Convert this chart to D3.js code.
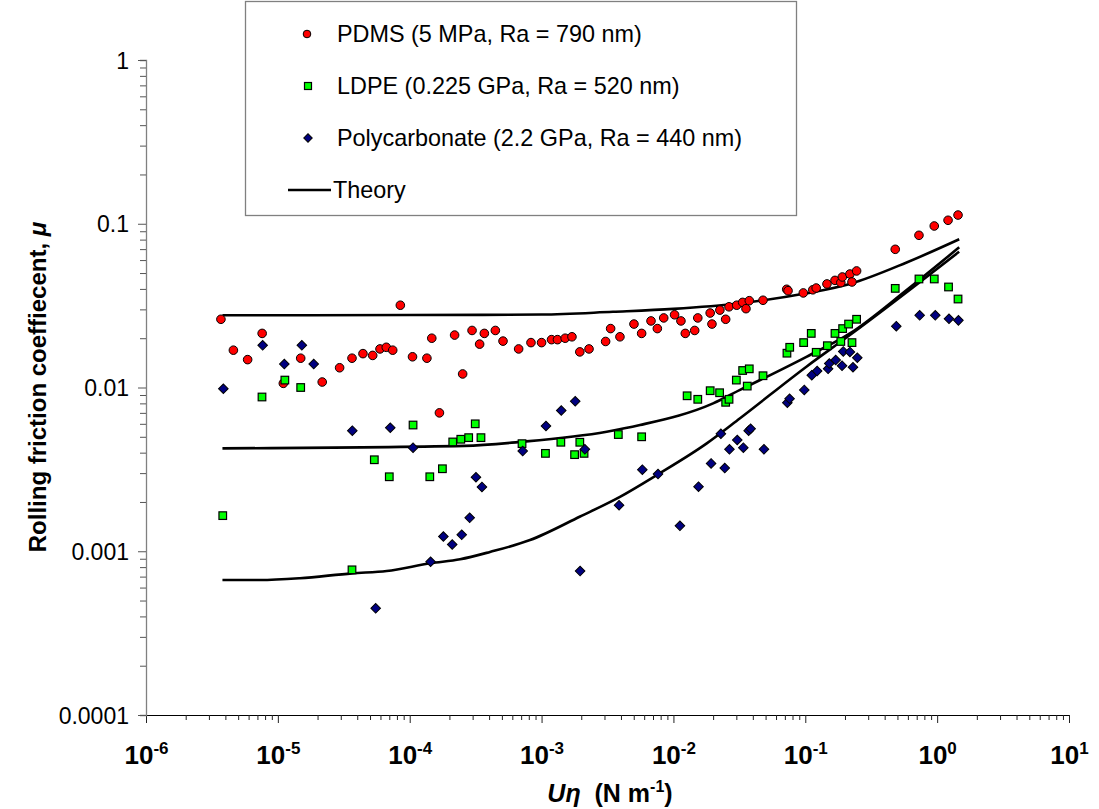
<!DOCTYPE html>
<html>
<head>
<meta charset="utf-8">
<script src="https://cdn.jsdelivr.net/npm/d3@7"></script>
<style>
  body { margin: 0; background: #fff; }
  svg { display: block; font-family: Arial, "Liberation Sans", sans-serif; }
</style>
</head>
<body>
<svg id="chart" width="1099" height="809"></svg>
<script>
// measured points [U·eta (N/m), mu]
const pdms = [
  [3.7e-6,0.0261],[4.6e-6,0.0169],[5.9e-6,0.0148],[7.6e-6,0.0214],[1.1e-5,0.0106],
  [1.49e-5,0.0151],[2.17e-5,0.0108],[2.94e-5,0.0132],[3.65e-5,0.0151],[4.42e-5,0.0161],
  [5.24e-5,0.0157],[5.95e-5,0.0172],[6.64e-5,0.0176],[7.43e-5,0.0169],[8.49e-5,0.0318],
  [1.05e-4,0.0154],[1.35e-4,0.0151],[1.47e-4,0.0200],[1.68e-4,0.0070],[2.19e-4,0.0209],
  [2.52e-4,0.0121],[2.97e-4,0.0223],[3.39e-4,0.0184],[3.68e-4,0.0214],[4.46e-4,0.0223],
  [5.1e-4,0.0192],[6.7e-4,0.0172],[8.31e-4,0.0188],[1.0e-3,0.0188],[1.19e-3,0.0196],
  [1.32e-3,0.0196],[1.51e-3,0.0200],[1.70e-3,0.0204],[1.95e-3,0.0165],[2.29e-3,0.0172],
  [3.06e-3,0.0191],[3.34e-3,0.0229],[3.93e-3,0.0204],[5.02e-3,0.0244],[5.74e-3,0.0214],
  [6.76e-3,0.0255],[7.55e-3,0.0229],[8.44e-3,0.0266],[1.02e-2,0.0278],[1.14e-2,0.0255],
  [1.23e-2,0.0214],[1.45e-2,0.0223],[1.53e-2,0.0266],[1.90e-2,0.0285],[1.96e-2,0.0244],
  [2.25e-2,0.0297],[2.49e-2,0.0261],[2.64e-2,0.0311],[3.02e-2,0.0318],[3.35e-2,0.0331],
  [3.55e-2,0.0303],[3.76e-2,0.0339],[4.78e-2,0.0341],[7.23e-2,0.0398],[7.4e-2,0.0390],
  [9.66e-2,0.0378],[0.114,0.0395],[0.121,0.0405],[0.146,0.0429],[0.168,0.0451],
  [0.186,0.0437],[0.191,0.0473],[0.218,0.0493],[0.226,0.0441],[0.245,0.0515],
  [0.481,0.0698],[0.728,0.085],[0.951,0.0969],[1.21,0.105],[1.44,0.113]
];

const ldpe = [
  [3.82e-6,0.00165],[7.58e-6,0.00875],[1.13e-5,0.0111],[1.49e-5,0.0100],[3.65e-5,0.00077],
  [5.39e-5,0.00362],[7.0e-5,0.00285],[1.06e-4,0.0059],[1.42e-4,0.00285],[1.77e-4,0.00319],
  [2.12e-4,0.00465],[2.44e-4,0.00483],[2.80e-4,0.00494],[3.14e-4,0.0060],[3.47e-4,0.00494],
  [7.11e-4,0.00454],[1.07e-3,0.00396],[1.40e-3,0.00463],[1.78e-3,0.00389],[1.95e-3,0.00463],
  [2.10e-3,0.00396],[3.82e-3,0.00516],[5.74e-3,0.0050],[1.27e-2,0.0089],[1.53e-2,0.00847],
  [1.90e-2,0.00956],[2.24e-2,0.00929],[2.49e-2,0.00812],[2.64e-2,0.00847],[3.0e-2,0.0111],
  [3.35e-2,0.0127],[3.63e-2,0.0102],[3.76e-2,0.0130],[4.78e-2,0.0118],[7.26e-2,0.0162],
  [7.62e-2,0.0176],[9.72e-2,0.0188],[0.111,0.0214],[0.121,0.0164],[0.147,0.0180],
  [0.168,0.0214],[0.186,0.0191],[0.192,0.0229],[0.213,0.0244],[0.226,0.0188],
  [0.245,0.0261],[0.481,0.0403],[0.728,0.046],[0.951,0.046],[1.22,0.0411],[1.44,0.0347]
];

const pc = [
  [3.86e-6,0.00983],[7.67e-6,0.0181],[1.12e-5,0.0139],[1.52e-5,0.0181],[1.87e-5,0.0139],
  [3.67e-5,0.00545],[5.52e-5,0.000448],[7.12e-5,0.00568],[1.06e-4,0.00429],[1.44e-4,0.000863],
  [1.80e-4,0.00123],[2.10e-4,0.0011],[2.48e-4,0.00126],[2.85e-4,0.0016],[3.18e-4,0.00283],
  [3.53e-4,0.00247],[7.19e-4,0.00409],[1.08e-3,0.00582],[1.41e-3,0.00724],[1.80e-3,0.00824],
  [1.96e-3,0.000757],[2.13e-3,0.00419],[3.87e-3,0.00191],[5.81e-3,0.00315],[7.64e-3,0.00296],
  [1.12e-2,0.00143],[1.55e-2,0.00248],[1.93e-2,0.00344],[2.29e-2,0.00522],[2.45e-2,0.00322],
  [2.66e-2,0.00419],[3.05e-2,0.00478],[3.39e-2,0.00429],[3.72e-2,0.00545],[3.85e-2,0.0056],
  [4.86e-2,0.00419],[7.31e-2,0.00808],[7.6e-2,0.00854],[9.83e-2,0.00966],[0.112,0.0119],
  [0.123,0.0126],[0.149,0.0130],[0.152,0.0140],[0.170,0.0147],[0.190,0.0136],
  [0.194,0.0166],[0.218,0.0165],[0.230,0.0133],[0.248,0.0152],[0.490,0.0237],
  [0.737,0.0276],[0.968,0.0276],[1.23,0.0263],[1.45,0.0257]
];

// theory curves
const pdmsTheory = [
  [3.8e-6,0.0276],[1e-4,0.0277],[1e-3,0.0279],[3.48e-3,0.0290],[1e-2,0.0302],
  [3.2e-2,0.0327],[0.102,0.0376],[0.218,0.0429],[0.587,0.058],[1.47,0.0804]
];
const ldpeTheory = [
  [3.8e-6,0.00425],[2.6e-4,0.0044],[7.27e-4,0.00467],[3.12e-3,0.00537],[5.58e-3,0.0059],
  [2.0e-2,0.0080],[3.2e-2,0.00966],[0.102,0.0154],[0.218,0.0214],[0.587,0.0394],[1.47,0.0718]
];
const pcTheory = [
  [3.8e-6,0.000667],[7.3e-6,0.000667],[1.47e-5,0.000684],[3.65e-5,0.000733],[6.69e-5,0.000757],
  [1.44e-4,0.000844],[2.41e-4,0.000893],[4.06e-4,0.00099],[8.17e-4,0.00117],[1.96e-3,0.00163],
  [3.93e-3,0.00215],[7.47e-3,0.00292],[1.79e-2,0.00456],[3.2e-2,0.00649],[0.102,0.0134],
  [0.218,0.0209],[1.47,0.0675]
];

const legendLabels = [
  "PDMS (5 MPa, Ra = 790 nm)",
  "LDPE (0.225 GPa, Ra = 520 nm)",
  "Polycarbonate (2.2 GPa, Ra = 440 nm)",
  "Theory"
];
const yTickLabels = ["0.0001", "0.001", "0.01", "0.1", "1"];
const xTickExps = ["-6", "-5", "-4", "-3", "-2", "-1", "0", "1"];

let svg = d3.select("#chart");

let x = d3.scaleLog().domain([1e-6, 10]).range([146, 1069]);
let y = d3.scaleLog().domain([1e-4, 1]).range([715, 60]);

function isMajor(d) {
    let l = Math.log10(d);
    return Math.abs(l - Math.round(l)) < 1e-6;
}

// ---- axes
let gx = svg.append("g")
    .attr("transform", "translate(0,715)")
    .call(d3.axisBottom(x).tickValues(x.ticks()).tickSizeOuter(0).tickSize(5).tickFormat(""));
gx.select(".domain").attr("stroke", "#000");
gx.selectAll(".tick line").attr("stroke", "#222").attr("y2", d => isMajor(d) ? 8 : 5);

let majX = gx.selectAll(".tick").filter(d => isMajor(d));
majX.select("text").remove();
majX.each(function(d, i) {
    let t = d3.select(this).append("text")
        .attr("y", 49)
        .attr("text-anchor", "middle")
        .attr("fill", "#000")
        .attr("font-size", 26)
        .attr("font-weight", "bold");
    t.append("tspan").text("10");
    t.append("tspan").attr("dy", -10).attr("font-size", 17).text(xTickExps[i]);
});

let gy = svg.append("g")
    .attr("transform", "translate(146,0)")
    .call(d3.axisLeft(y).tickValues(y.ticks()).tickSizeOuter(0).tickSize(6).tickPadding(11)
        .tickFormat(d => isMajor(d) ? yTickLabels[Math.round(Math.log10(d)) + 4] : ""));
gy.select(".domain").attr("stroke", "#808080").attr("stroke-width", 1.3);
gy.selectAll(".tick line").attr("stroke", "#555").attr("x2", d => isMajor(d) ? -8 : -6);
gy.selectAll(".tick text").attr("font-size", 23).attr("fill", "#000").attr("dy", "0.35em");

// ---- axis titles
let yt = svg.append("text")
    .attr("transform", "translate(46,387) rotate(-90)")
    .attr("text-anchor", "middle")
    .attr("font-size", 24)
    .attr("font-weight", "bold");
yt.append("tspan").text("Rolling friction coeffiecent, ");
yt.append("tspan").attr("font-style", "italic").text("μ");

let xt = svg.append("text")
    .attr("x", 610).attr("y", 802)
    .attr("text-anchor", "middle")
    .attr("font-size", 25)
    .attr("font-weight", "bold");
xt.append("tspan").attr("font-style", "italic").text("Uη");
xt.append("tspan").text("\u00a0 (N m");
xt.append("tspan").attr("dy", -10).attr("font-size", 16).text("-1");
xt.append("tspan").attr("dy", 10).text(")");

// ---- theory lines
let line = d3.line()
    .x(d => x(d[0]))
    .y(d => y(d[1]))
    .curve(d3.curveMonotoneX);

svg.append("g").selectAll("path")
    .data([pdmsTheory, ldpeTheory, pcTheory])
    .enter()
    .append("path")
    .attr("d", line)
    .attr("fill", "none")
    .attr("stroke", "#000")
    .attr("stroke-width", 2.6);

// ---- markers
let diamond = d3.symbol().type(d3.symbolSquare).size(46);

svg.append("g").selectAll("circle")
    .data(pdms)
    .enter()
    .append("circle")
    .attr("cx", d => x(d[0]))
    .attr("cy", d => y(d[1]))
    .attr("r", 4.3)
    .attr("fill", "#ff0000")
    .attr("stroke", "#000")
    .attr("stroke-width", 1);

svg.append("g").selectAll("rect")
    .data(ldpe)
    .enter()
    .append("rect")
    .attr("x", d => x(d[0]) - 3.8)
    .attr("y", d => y(d[1]) - 3.8)
    .attr("width", 7.6)
    .attr("height", 7.6)
    .attr("fill", "#00ff00")
    .attr("stroke", "#000")
    .attr("stroke-width", 1.2);

svg.append("g").selectAll("path")
    .data(pc)
    .enter()
    .append("path")
    .attr("d", diamond)
    .attr("transform", d => "translate(" + x(d[0]) + "," + y(d[1]) + ") rotate(45)")
    .attr("fill", "#000080")
    .attr("stroke", "#000")
    .attr("stroke-width", 1);

// ---- legend
let lg = svg.append("g");
lg.append("rect")
    .attr("x", 245.5).attr("y", 1.5)
    .attr("width", 551).attr("height", 214)
    .attr("fill", "#fff")
    .attr("stroke", "#808080")
    .attr("stroke-width", 1.3);

let rowY = [34, 86, 138, 190];

lg.append("circle").attr("cx", 307).attr("cy", rowY[0]).attr("r", 3.8)
    .attr("fill", "#ff0000").attr("stroke", "#000");
lg.append("rect").attr("x", 304.5).attr("y", rowY[1] - 3.5).attr("width", 7).attr("height", 7)
    .attr("fill", "#00ff00").attr("stroke", "#000").attr("stroke-width", 1.2);
lg.append("path").attr("d", d3.symbol().type(d3.symbolSquare).size(36))
    .attr("transform", "translate(308," + rowY[2] + ") rotate(45)")
    .attr("fill", "#000080").attr("stroke", "#000");
lg.append("line").attr("x1", 288).attr("x2", 331).attr("y1", rowY[3]).attr("y2", rowY[3])
    .attr("stroke", "#000").attr("stroke-width", 2.6);

lg.selectAll("text.leg")
    .data(legendLabels)
    .enter()
    .append("text")
    .attr("class", "leg")
    .attr("x", (d, i) => i == 3 ? 333 : 337)
    .attr("y", (d, i) => rowY[i])
    .attr("dy", "0.36em")
    .attr("font-size", 23.4)
    .attr("fill", "#000")
    .text(d => d);
</script>
</body>
</html>
